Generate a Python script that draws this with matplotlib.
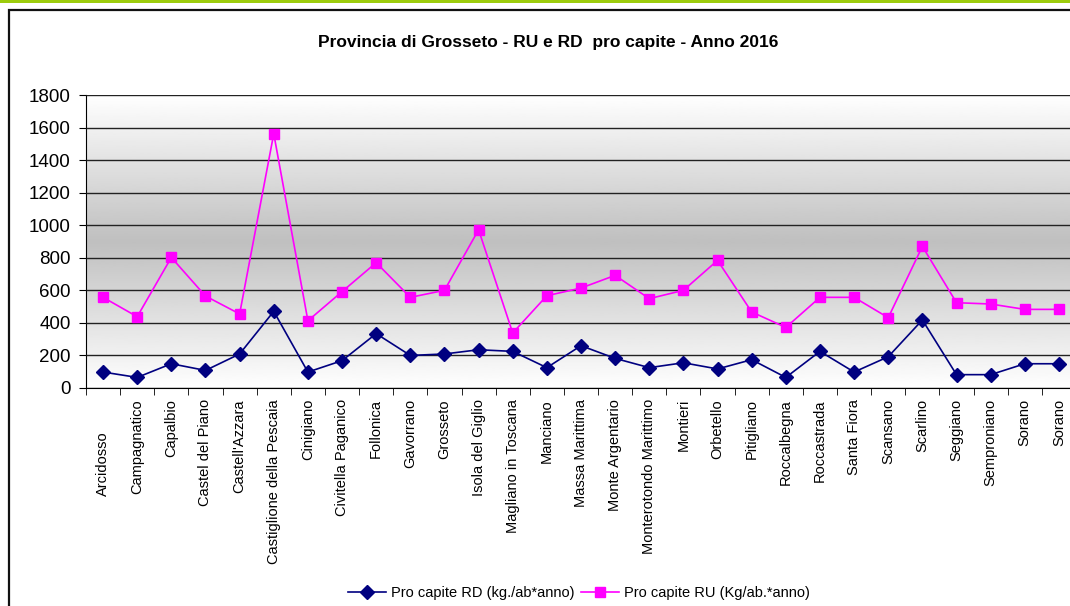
import numpy as np
import matplotlib
matplotlib.use("Agg")
import matplotlib.pyplot as plt
from matplotlib.patches import Rectangle
from matplotlib.transforms import ScaledTranslation

plt.rcParams['font.family'] = ['Liberation Sans', 'DejaVu Sans']

# Data
comuni = ["Arcidosso", "Campagnatico", "Capalbio", "Castel del Piano", "Castell'Azzara",
          "Castiglione della Pescaia", "Cinigiano", "Civitella Paganico", "Follonica",
          "Gavorrano", "Grosseto", "Isola del Giglio", "Magliano in Toscana", "Manciano",
          "Massa Marittima", "Monte Argentario", "Monterotondo Marittimo", "Montieri",
          "Orbetello", "Pitigliano", "Roccalbegna", "Roccastrada", "Santa Fiora",
          "Scansano", "Scarlino", "Seggiano", "Semproniano", "Sorano", "Sorano"]
rd = [98, 65, 149, 108, 209, 471, 98, 168, 334,
      200, 209, 235, 225, 125, 260, 182, 125, 155,
      117, 174, 65, 225, 98, 192, 418, 82, 82, 149, 149]
ru = [557, 438, 802, 565, 455, 1562, 413, 592, 770,
      557, 600, 972, 338, 567, 614, 692, 549, 600,
      784, 467, 372, 557, 557, 432, 870, 524, 516, 483, 483]
yticks = list(range(0, 1801, 200))

W, H = 1070, 606
fig = plt.figure(figsize=(W / 100, H / 100), dpi=100)

# outer frame and green top line
fig.add_artist(Rectangle((0, 1 - 3 / H), 1, 3 / H, transform=fig.transFigure,
                         facecolor='#9ccc0c', edgecolor='none'))
fig.add_artist(Rectangle((9 / W, -0.1), 1.2, 1.1 - 10 / H, transform=fig.transFigure,
                         facecolor='none', edgecolor='#111111', lw=1.6))

ax = fig.add_axes([86 / W, 1 - 388 / H, 990 / W, 293 / H])
n = len(comuni)
x = np.arange(n)

# plot area gradient: white - grey - white
t = np.linspace(0, 1, 256)
shade = 1 - 0.25 * (1 - np.abs(2 * t - 1))
ax.imshow(shade[:, None], extent=(-0.5, n - 0.5, 0, 1800), aspect='auto',
          cmap='gray', vmin=0, vmax=1, zorder=0)

ax.plot(x, rd, color='#000080', marker='D', markersize=7, lw=1.2,
        label='Pro capite RD (kg./ab*anno)', zorder=3)
ax.plot(x, ru, color='#ff00ff', marker='s', markersize=7, lw=1.2,
        label='Pro capite RU (Kg/ab.*anno)', zorder=3)

ax.set_xlim(-0.5, n - 0.5)
ax.set_ylim(0, 1800)
ax.set_yticks(yticks)
ax.yaxis.grid(True, color='#222222', lw=1)
ax.set_axisbelow(False)
for s in ['top', 'right']:
    ax.spines[s].set_visible(False)
ax.spines['left'].set_color('black')
ax.spines['bottom'].set_color('black')
ax.tick_params(axis='y', length=5, pad=6, labelsize=13.5, direction='out')

ax.set_xticks(x)
ax.set_xticklabels(comuni, rotation=90, va='top', ha='center', fontsize=10.5)
ax.set_xticks(np.arange(-0.5, n), minor=True)
ax.tick_params(axis='x', which='major', length=0, pad=8)
ax.tick_params(axis='x', which='minor', length=5, direction='out')
lbl = ax.get_xticklabels()[0]
lbl.set_transform(lbl.get_transform() + ScaledTranslation(0, -32 / 100, fig.dpi_scale_trans))

fig.text(0.512, 1 - 43 / H, 'Provincia di Grosseto - RU e RD  pro capite - Anno 2016',
         ha='center', va='center', fontsize=12.5, fontweight='bold')

fig.legend(loc='center', bbox_to_anchor=(579 / W, 1 - 593 / H), ncol=2, frameon=False,
           fontsize=10.5, handlelength=2.6, handletextpad=0.3, columnspacing=0.5)

fig.savefig('out.png', dpi=100)
